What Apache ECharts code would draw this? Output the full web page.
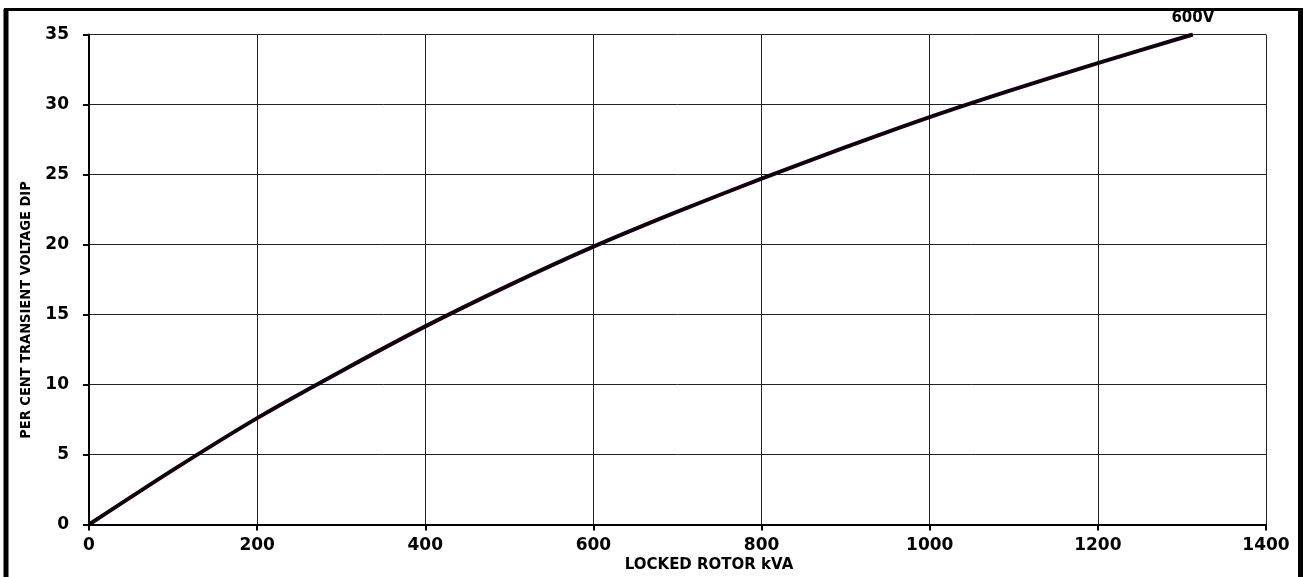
<!DOCTYPE html>
<html>
<head>
<meta charset="utf-8">
<script src="https://cdn.jsdelivr.net/npm/echarts@6/dist/echarts.min.js"></script>
<style>
html,body{margin:0;padding:0;background:#fff;}
#chart{width:1306px;height:577px;}
</style>
</head>
<body>
<div id="chart"></div>
<script>
// Data
const lockedRotorKVA = [0, 100, 200, 300, 400, 500, 600, 700, 800, 900, 1000, 1100, 1200, 1313];
const voltageDipPct  = [0, 3.9, 7.6, 10.95, 14.15, 17.1, 19.85, 22.35, 24.7, 26.95, 29.1, 31.08, 32.95, 35.0];
const seriesName = '600V';
const xAxisTitle = 'LOCKED ROTOR kVA';
const yAxisTitle = 'PER CENT TRANSIENT VOLTAGE DIP';

const chart = echarts.init(document.getElementById('chart'));
const seriesData = lockedRotorKVA.map((x, i) => [x, voltageDipPct[i]]);
const lastIdx = lockedRotorKVA.length - 1;

const tickFont = { fontFamily: 'DejaVu Sans', fontWeight: 'bold', fontSize: 17, color: '#000' };

chart.setOption({
  animation: false,
  backgroundColor: '#fff',
  grid: { left: 89, right: 40, top: 34.5, bottom: 52.5, containLabel: false },
  xAxis: {
    type: 'value', min: 0, max: 1400, interval: 200,
    axisLine: { show: true, lineStyle: { color: '#000', width: 2 } },
    axisTick: { show: true, length: 6, lineStyle: { color: '#000', width: 2 } },
    axisLabel: Object.assign({ margin: 13, formatter: v => String(v) }, tickFont),
    splitLine: { show: true, lineStyle: { color: '#222', width: 1 } }
  },
  yAxis: {
    type: 'value', min: 0, max: 35, interval: 5,
    axisLine: { show: true, lineStyle: { color: '#000', width: 2 } },
    axisTick: { show: true, length: 6, lineStyle: { color: '#000', width: 2 } },
    axisLabel: Object.assign({ margin: 20, formatter: v => String(v) }, tickFont),
    splitLine: { show: true, lineStyle: { color: '#222', width: 1 } }
  },
  series: [{
    name: seriesName,
    type: 'line',
    data: seriesData,
    smooth: 0.25,
    symbol: 'none',
    lineStyle: { color: '#120010', width: 4 },
    z: 5,
    markPoint: {
      symbol: 'circle',
      symbolSize: 1,
      itemStyle: { color: 'rgba(0,0,0,0)' },
      label: {
        show: true, position: 'top', distance: 8,
        formatter: seriesName,
        fontFamily: 'DejaVu Sans', fontWeight: 'bold', fontSize: 15, color: '#000'
      },
      data: [{ coord: [lockedRotorKVA[lastIdx], voltageDipPct[lastIdx]] }]
    }
  }],
  graphic: [
    { type: 'line', shape: { x1: 6, y1: 9, x2: 6, y2: 600 }, style: { stroke: '#000', lineWidth: 5 } },
    { type: 'line', shape: { x1: 1300.5, y1: 9, x2: 1300.5, y2: 600 }, style: { stroke: '#000', lineWidth: 5 } },
    { type: 'line', shape: { x1: 4, y1: 9.5, x2: 1303, y2: 9.5 }, style: { stroke: '#000', lineWidth: 3 } },
    {
      type: 'text', x: 709, y: 565,
      style: { text: xAxisTitle, fontFamily: 'DejaVu Sans', fontWeight: 'bold', fontSize: 15, fill: '#000', align: 'center', verticalAlign: 'middle' }
    },
    {
      type: 'text', x: 26, y: 310, rotation: Math.PI / 2,
      style: { text: yAxisTitle, fontFamily: "'Liberation Sans Narrow', 'DejaVu Sans Condensed', sans-serif", fontWeight: 'bold', fontSize: 14.5, fill: '#000', align: 'center', verticalAlign: 'middle' }
    }
  ]
});
</script>
</body>
</html>
